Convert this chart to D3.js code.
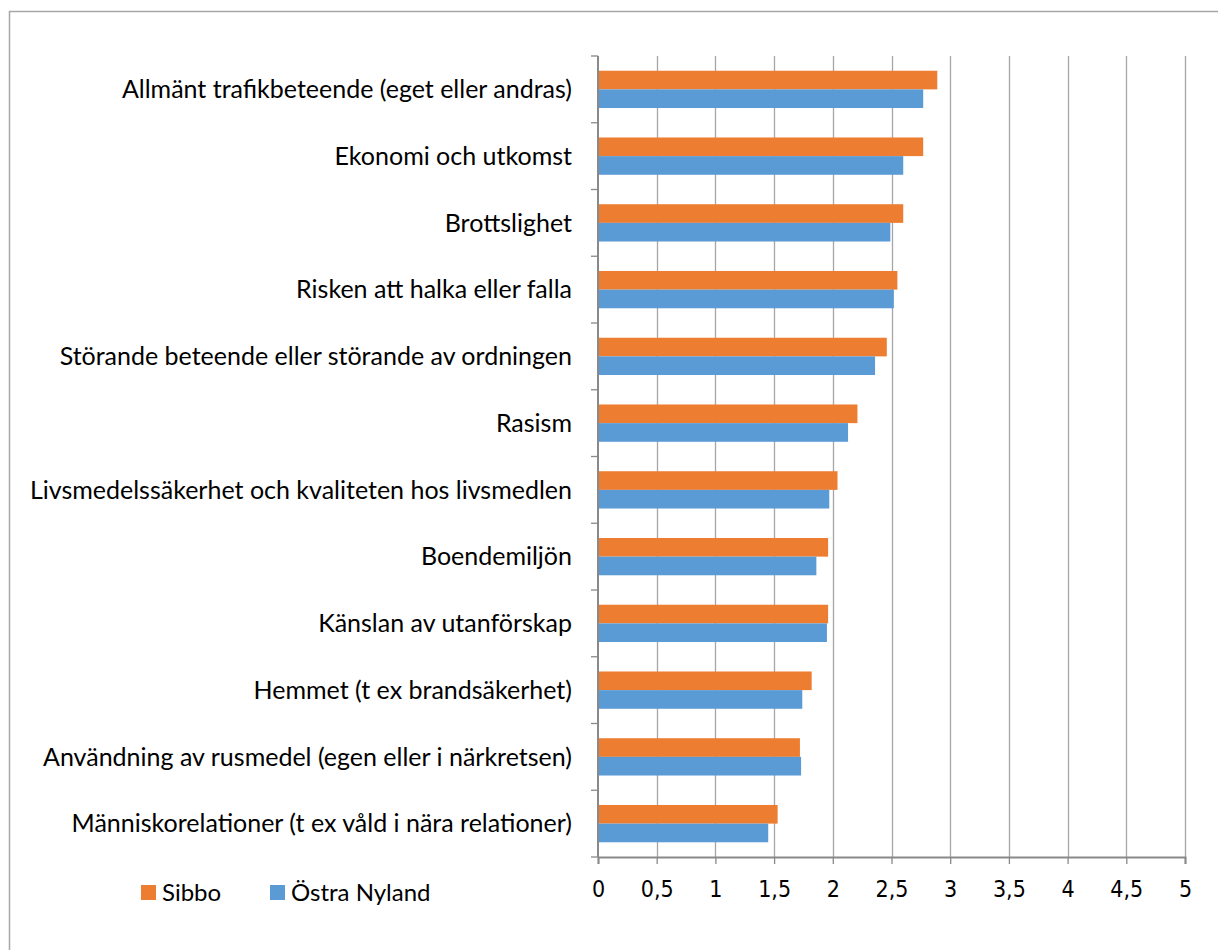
<!DOCTYPE html>
<html>
<head>
<meta charset="utf-8">
<script src="https://cdn.jsdelivr.net/npm/d3@7"></script>
<style>
  html, body { margin: 0; padding: 0; background: #fff; }
  svg { display: block; }
</style>
</head>
<body>
<div id="result"></div>
<script>
const categories = [
    "Allmänt trafikbeteende (eget eller andras)",
    "Ekonomi och utkomst",
    "Brottslighet",
    "Risken att halka eller falla",
    "Störande beteende eller störande av ordningen",
    "Rasism",
    "Livsmedelssäkerhet och kvaliteten hos livsmedlen",
    "Boendemiljön",
    "Känslan av utanförskap",
    "Hemmet (t ex brandsäkerhet)",
    "Användning av rusmedel (egen eller i närkretsen)",
    "Människorelationer (t ex våld i nära relationer)"
];
const seriesNames = ["Sibbo", "Östra Nyland"];
const sibbo = [2.89, 2.77, 2.60, 2.55, 2.46, 2.21, 2.04, 1.96, 1.96, 1.82, 1.72, 1.53];
const ostraNyland = [2.77, 2.60, 2.49, 2.52, 2.36, 2.13, 1.97, 1.86, 1.95, 1.74, 1.73, 1.45];
const xTicks = [0, 0.5, 1, 1.5, 2, 2.5, 3, 3.5, 4, 4.5, 5];
const colors = ["#ED7D31", "#5B9BD5"];

const width = 1218, height = 950;
const margin = { top: 56, left: 598, right: 33, bottom: 93 };
const labelFont = "Lato, 'Open Sans', sans-serif";

const svg = d3.select("#result")
    .append("svg")
    .attr("width", width)
    .attr("height", height);

// chart frame (right and bottom edges fall outside the picture)
svg.append("rect")
    .attr("x", 9.5).attr("y", 11.5)
    .attr("width", width + 20).attr("height", height + 20)
    .attr("fill", "none")
    .attr("stroke", "#a6a6a6")
    .attr("stroke-width", 1.5);

const x = d3.scaleLinear()
    .domain([0, 5])
    .range([margin.left, width - margin.right]);

const y0 = d3.scaleBand()
    .domain(categories)
    .range([margin.top, height - margin.bottom])
    .padding(0);

const y1 = d3.scaleBand()
    .domain(seriesNames)
    .range([0, y0.bandwidth()])
    .paddingInner(0)
    .paddingOuter(0.79);

const bottomY = height - margin.bottom;

// vertical gridlines
svg.append("g")
    .selectAll("line")
    .data(xTicks.slice(1))
    .join("line")
    .attr("x1", d => Math.round(x(d)) + 0.5)
    .attr("x2", d => Math.round(x(d)) + 0.5)
    .attr("y1", margin.top)
    .attr("y2", bottomY)
    .attr("stroke", "#a6a6a6")
    .attr("stroke-width", 1.3);

// bars
const rows = categories.map((c, i) => ({ cat: c, vals: [sibbo[i], ostraNyland[i]] }));
svg.append("g")
    .selectAll("g")
    .data(rows)
    .join("g")
    .attr("transform", d => "translate(0," + y0(d.cat) + ")")
    .selectAll("rect")
    .data(d => d.vals.map((v, j) => ({ key: seriesNames[j], v: v, j: j })))
    .join("rect")
    .attr("x", x(0))
    .attr("y", d => y1(d.key))
    .attr("width", d => x(d.v) - x(0))
    .attr("height", y1.bandwidth())
    .attr("fill", d => colors[d.j]);

// bottom axis
const xAxis = svg.append("g")
    .attr("transform", "translate(0," + bottomY + ")")
    .call(d3.axisBottom(x)
        .tickValues(xTicks)
        .tickSize(7)
        .tickPadding(17)
        .tickFormat(d => String(d).replace(".", ",")));
xAxis.select(".domain").attr("stroke", "#898989").attr("stroke-width", 2);
xAxis.selectAll(".tick line").attr("stroke", "#898989").attr("stroke-width", 1.3);
xAxis.selectAll(".tick text")
    .attr("fill", "#000")
    .style("font-family", "'Liberation Sans Narrow', 'DejaVu Sans Condensed', sans-serif")
    .style("font-size", "23px");

// left axis with ticks between categories
const boundaries = categories.map(c => y0(c)).concat([bottomY]);
svg.append("g")
    .selectAll("line")
    .data(boundaries)
    .join("line")
    .attr("x1", x(0) - 7)
    .attr("x2", x(0))
    .attr("y1", d => d)
    .attr("y2", d => d)
    .attr("stroke", "#898989")
    .attr("stroke-width", 1.3);
svg.append("line")
    .attr("x1", x(0)).attr("x2", x(0))
    .attr("y1", margin.top).attr("y2", bottomY)
    .attr("stroke", "#898989")
    .attr("stroke-width", 2);

// category labels
svg.append("g")
    .selectAll("text")
    .data(categories)
    .join("text")
    .attr("x", 572)
    .attr("y", d => y0(d) + y0.bandwidth() / 2)
    .attr("dy", "0.35em")
    .attr("text-anchor", "end")
    .style("font-family", labelFont)
    .style("font-size", "25px")
    .attr("fill", "#000")
    .text(d => d);

// legend
const legend = svg.append("g");
const legendX = [141, 270];
seriesNames.forEach((name, i) => {
    legend.append("rect")
        .attr("x", legendX[i]).attr("y", 885)
        .attr("width", 15).attr("height", 15)
        .attr("fill", colors[i]);
    legend.append("text")
        .attr("x", legendX[i] + 21).attr("y", 901)
        .style("font-family", labelFont)
        .style("font-size", "24px")
        .attr("fill", "#000")
        .text(name);
});
</script>
</body>
</html>
